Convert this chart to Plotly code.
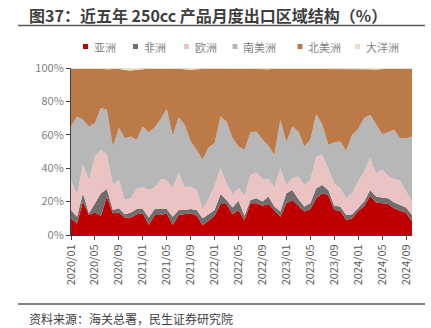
import plotly.graph_objects as go

# ---------------- data (shares, %) ----------------
months = [f"{y}/{m:02d}" for y in range(2020, 2025) for m in range(1, 13)][:58]

asia = [10, 7, 20, 12, 13.5, 11.5, 23, 13, 13.5, 10.5, 10.5, 12.5, 13, 6, 12, 12, 13, 6, 12, 12.5,
        13, 11.5, 6, 8.5, 11.5, 18.5, 18.5, 12.5, 15, 9, 19, 19, 17.5, 18.5, 15, 11, 19, 21, 17.5, 14,
        15.5, 22, 25, 24, 15, 14.5, 9, 10, 14.5, 17, 23.5, 19.5, 19, 18.5, 16, 14.5, 13.5, 8]
africa = [5, 4, 5, 1, 5.5, 13.5, 4.5, 2, 2.5, 2, 3, 3, 2.5, 4.5, 3.5, 3.5, 2.5, 5, 3, 2.5,
          2.5, 3.5, 4, 4, 3.5, 6, 2.5, 4, 5.5, 2.5, 2, 3, 2.5, 4.5, 2, 3, 6, 6, 4, 3,
          3.5, 6, 5, 3, 2.5, 2.5, 3, 2.5, 2, 3, 3.5, 3.5, 3.5, 3.5, 3.5, 3.5, 3, 4]
europe = [18, 13, 17, 20, 28, 26, 20.5, 15, 17, 8.5, 8.5, 12.5, 13, 16.5, 13, 18, 17.5, 17, 22.5, 13.5,
          13.5, 12, 5.5, 9, 14.5, 15.5, 10, 8, 7.5, 12, 15, 15.5, 13.5, 10.5, 11.5, 26, 5, 7, 13.5, 13,
          14, 19, 18, 13, 13.5, 11, 10, 12.5, 15.5, 18, 19, 14, 16.5, 13.5, 14, 14.5, 9.5, 8]
s_america = [32, 47, 27, 32, 20, 25, 27, 23, 31, 37, 37, 29, 36.5, 34.5, 36, 36, 42.5, 31.5, 33, 37.5,
             27, 24, 29.5, 31, 25.5, 31, 37, 33.5, 25, 27.5, 25.5, 24.5, 23.5, 20, 19.5, 29, 25.5, 31, 27, 23,
             24, 25.5, 18, 14, 24.5, 28, 28.5, 35, 31.5, 32, 26, 29, 21.5, 26, 29.5, 25.5, 32, 39]
n_america = [34.5, 28.5, 30.7, 34.7, 32.6, 23.5, 24.2, 46.4, 35.5, 40.8, 39.5, 42, 34.4, 38, 35, 30.1, 24, 39.9, 29, 33.2,
             43, 48.3, 54.5, 47, 44.4, 28.2, 31.4, 41.5, 46.3, 48.4, 38, 37.4, 42.1, 45.8, 51.5, 30.5, 43.9, 34.5, 37.6, 46.5,
             42.4, 27, 33.6, 45.5, 43.9, 43.5, 49, 39.4, 36.1, 29.5, 27.2, 33.1, 38.9, 38, 36.5, 41.3, 41.4, 40.5]
oceania = [0.5, 0.5, 0.3, 0.3, 0.4, 0.5, 0.8, 0.6, 0.5, 1.2, 1.5, 1.0, 0.6, 0.5, 0.5, 0.4, 0.5, 0.6, 0.5, 0.8,
           1.0, 0.7, 0.5, 0.5, 0.6, 0.8, 0.6, 0.5, 0.7, 0.6, 0.5, 0.6, 0.9, 0.7, 0.5, 0.5, 0.6, 0.5, 0.4, 0.5,
           0.6, 0.5, 0.4, 0.5, 0.6, 0.5, 0.5, 0.6, 0.4, 0.5, 0.8, 0.9, 0.6, 0.5, 0.5, 0.7, 0.6, 0.5]

series_names = ["亚洲", "非洲", "欧洲", "南美洲", "北美洲", "大洋洲"]
series_values = [asia, africa, europe, s_america, n_america, oceania]
colors = ["#C00000", "#6E6E6E", "#EBC3C3", "#B7B7B7", "#BC7A48", "#EEDFC4"]

tick_labels = ["2020/01", "2020/05", "2020/09", "2021/01", "2021/05", "2021/09", "2022/01",
               "2022/05", "2022/09", "2023/01", "2023/05", "2023/09", "2024/01", "2024/05", "2024/09"]
y_ticks = [0, 20, 40, 60, 80, 100]

# ---------------- layout geometry (px) ----------------
W, H = 431, 328
L, R, T, B = 71, 19, 68, 93
PW, PH = W - L - R, H - T - B


def px(x):
    return (x - L) / PW


def py(y):
    return (H - B - y) / PH


FONT = "Noto Sans CJK SC, Noto Sans, sans-serif"

fig = go.Figure()
for name, vals, col in zip(series_names, series_values, colors):
    fig.add_trace(go.Scatter(
        x=months, y=vals, name=name, stackgroup="one", mode="lines",
        line=dict(width=0, color=col), fillcolor=col, showlegend=False,
        hoverinfo="skip",
    ))

shapes = []
annotations = []

# title + underline
annotations.append(dict(
    text="<b>图37：近五年 250cc 产品月度出口区域结构（%）</b>",
    x=px(27), y=py(15), xref="paper", yref="paper", xanchor="left", yanchor="middle",
    showarrow=False, font=dict(family=FONT, size=16, color="#3F3F3F")))
shapes.append(dict(type="line", xref="paper", yref="paper", x0=px(18), x1=px(425),
                   y0=py(25.5), y1=py(25.5), line=dict(color="#595959", width=1.5)))

# manual legend
leg_x = [83, 133, 184, 232.5, 297.5, 355]
leg_y = 46.5
for xm, name, col in zip(leg_x, series_names, colors):
    shapes.append(dict(type="rect", xref="paper", yref="paper",
                       x0=px(xm), x1=px(xm + 5), y0=py(leg_y + 2.5), y1=py(leg_y - 2.5),
                       fillcolor=col, line=dict(width=0)))
    annotations.append(dict(
        text=name, x=px(xm + 8.5), y=py(leg_y), xref="paper", yref="paper",
        xanchor="left", yanchor="middle", showarrow=False,
        font=dict(family=FONT, size=11, color="#7F7F7F")))

# bottom line + source
shapes.append(dict(type="line", xref="paper", yref="paper", x0=px(18), x1=px(425),
                   y0=py(304), y1=py(304), line=dict(color="#595959", width=1.5)))
annotations.append(dict(
    text="资料来源：海关总署，民生证券研究院", x=px(27), y=py(318), xref="paper", yref="paper",
    xanchor="left", yanchor="middle", showarrow=False,
    font=dict(family=FONT, size=12, color="#404040")))

fig.update_layout(
    width=W, height=H, margin=dict(l=L, r=R, t=T, b=B),
    paper_bgcolor="white", plot_bgcolor="white",
    showlegend=False, shapes=shapes, annotations=annotations,
    font=dict(family=FONT, size=11, color="#595959"),
)
fig.update_xaxes(
    type="category", categoryorder="array", categoryarray=months,
    range=[0, len(months) - 1],
    tickmode="array", tickvals=tick_labels, ticktext=tick_labels, tickangle=-90,
    ticks="outside", ticklen=4, tickcolor="#404040",
    showline=True, linecolor="#404040", linewidth=1, showgrid=False, zeroline=False,
    tickfont=dict(family=FONT, size=11, color="#595959"),
)
fig.update_yaxes(
    range=[0, 100], tickmode="array", tickvals=y_ticks, ticktext=[f"{v}%" for v in y_ticks],
    ticks="outside", ticklen=4, tickcolor="#404040",
    showline=True, linecolor="#404040", linewidth=1, showgrid=False, zeroline=False,
    tickfont=dict(family=FONT, size=11, color="#7F7F7F"),
)

fig.write_html("out.html")
